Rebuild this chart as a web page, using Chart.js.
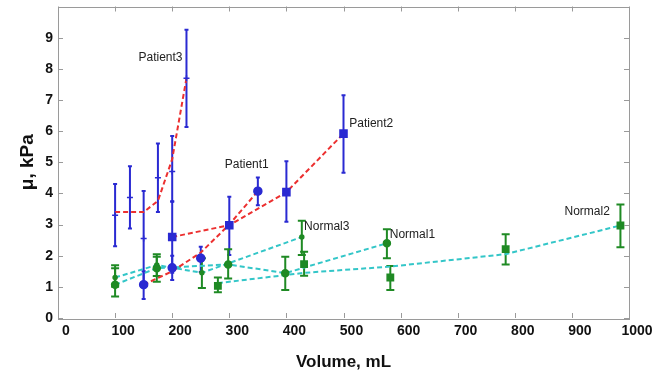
<!DOCTYPE html>
<html>
<head>
<meta charset="utf-8">
<script src="https://cdn.jsdelivr.net/npm/chart.js@4.4.1/dist/chart.umd.min.js"></script>
<style>
  html, body { margin: 0; background: #fff; }
  #wrap { width: 668px; height: 381px; }
</style>
</head>
<body>
<div id="wrap"><canvas id="grafico" width="668" height="381"></canvas></div>
<script>
// ── Eixos ──
const xTicks = [0, 100, 200, 300, 400, 500, 600, 700, 800, 900, 1000];
const yTicks = [0, 1, 2, 3, 4, 5, 6, 7, 8, 9, 10];

// ── Patient3 (linha e pontos medidos) ──
const p3LineX = [100, 150, 175, 200, 225];
const p3LineY = [3.4, 3.4, 3.76, 5.1, 7.7];
const p3X  = [100, 126, 150, 175, 200, 225];
const p3Y  = [3.3, 3.87, 2.55, 4.5, 4.7, 7.7];
const p3Lo = [2.3, 2.87, 1.0, 3.4, 3.73, 6.13];
const p3Hi = [4.3, 4.87, 4.08, 5.6, 5.84, 9.25];

// ── Patient1 ──
const p1LineX = [150, 200, 250, 300, 350];
const p1LineY = [1.07, 1.5, 2.1, 3.0, 4.07];
const p1X  = [150, 200, 250, 350];
const p1Y  = [1.07, 1.61, 1.92, 4.07];
const p1Lo = [0.61, 1.22, 1.48, 3.62];
const p1Hi = [1.5, 2.0, 2.29, 4.51];

// ── Patient2 ──
const p2X  = [200, 300, 400, 500];
const p2Y  = [2.6, 2.98, 4.04, 5.92];
const p2Lo = [1.45, 2.02, 3.09, 4.66];
const p2Hi = [3.75, 3.89, 5.03, 7.15];

// ── Normal1 ──
const n1X  = [100, 173, 298, 398, 576];
const n1Y  = [1.07, 1.6, 1.72, 1.44, 2.4];
const n1Lo = [0.69, 1.16, 1.27, 0.9, 1.92];
const n1Hi = [1.69, 1.97, 2.21, 1.97, 2.85];

// ── Normal3 ──
const n3X  = [100, 173, 252, 427];
const n3Y  = [1.3, 1.7, 1.45, 2.6];
const n3Lo = [1.0, 1.35, 0.96, 2.02];
const n3Hi = [1.6, 2.05, 1.92, 3.12];

// ── Normal2 ──
const n2LineY = [1.12, 1.45, 1.65, 2.05, 2.97];
const n2X  = [280, 431, 582, 784, 985];
const n2Y  = [1.03, 1.73, 1.3, 2.21, 2.97];
const n2Lo = [0.83, 1.36, 0.9, 1.72, 2.27];
const n2Hi = [1.3, 2.13, 1.67, 2.69, 3.64];

// ── Rótulos das séries (posição em coordenadas dos dados) ──
const rotulos = [
    { text: 'Patient3', x: 141, y: 8.36 },
    { text: 'Patient2', x: 510, y: 6.23 },
    { text: 'Patient1', x: 292, y: 4.93 },
    { text: 'Normal3',  x: 431, y: 2.93 },
    { text: 'Normal1',  x: 581, y: 2.66 },
    { text: 'Normal2',  x: 887, y: 3.41 }
];

const AZUL     = '#2a2ad2';
const VERMELHO = '#ec3030';
const CIANO    = '#33c6c8';
const VERDE    = '#1f8a24';
const EIXO     = '#9a9a9a';
const FONTE    = "'Liberation Sans', Arial, sans-serif";

function pts(xs, ys) {
    return xs.map((x, i) => ({ x: x, y: ys[i] }));
}

function marcas(label, xs, ys, lo, hi, cor, estilo, raio, cap) {
    return {
        label: label, data: pts(xs, ys), lo: lo, hi: hi, cap: cap,
        showLine: false, pointStyle: estilo, pointRadius: raio,
        backgroundColor: cor, borderColor: cor, borderWidth: 1.5, errColor: cor
    };
}

function linha(label, xs, ys, cor) {
    return {
        label: label, data: pts(xs, ys), showLine: true, pointRadius: 0,
        borderColor: cor, borderWidth: 2, borderDash: [5, 3], fill: false
    };
}

// barras de erro desenhadas pelas escalas do próprio gráfico
const barrasErro = {
    id: 'barrasErro',
    beforeDatasetsDraw(chart) {
        const { ctx, scales: { x, y } } = chart;
        ctx.save();
        chart.data.datasets.forEach(ds => {
            if (!ds.lo) return;
            ctx.strokeStyle = ds.errColor;
            ctx.lineWidth = 2;
            ds.data.forEach((p, i) => {
                const px = x.getPixelForValue(p.x);
                const y1 = y.getPixelForValue(ds.lo[i]);
                const y2 = y.getPixelForValue(ds.hi[i]);
                ctx.beginPath();
                ctx.moveTo(px, y1); ctx.lineTo(px, y2);
                ctx.moveTo(px - ds.cap, y1); ctx.lineTo(px + ds.cap, y1);
                ctx.moveTo(px - ds.cap, y2); ctx.lineTo(px + ds.cap, y2);
                ctx.stroke();
            });
        });
        ctx.restore();
    }
};

// caixa com marcas para dentro (estilo MATLAB) + rótulos
const caixa = {
    id: 'caixa',
    afterDatasetsDraw(chart) {
        const { ctx, chartArea: a, scales: { x, y } } = chart;
        ctx.save();
        ctx.strokeStyle = EIXO;
        ctx.lineWidth = 1;
        ctx.strokeRect(Math.round(a.left) + 0.5, Math.round(a.top) + 0.5,
                       Math.round(a.right - a.left), Math.round(a.bottom - a.top));
        ctx.beginPath();
        xTicks.forEach(v => {
            const px = Math.round(x.getPixelForValue(v)) + 0.5;
            ctx.moveTo(px, a.bottom); ctx.lineTo(px, a.bottom - 5);
            ctx.moveTo(px, a.top); ctx.lineTo(px, a.top + 5);
        });
        yTicks.forEach(v => {
            const py = Math.round(y.getPixelForValue(v)) + 0.5;
            ctx.moveTo(a.left, py); ctx.lineTo(a.left + 5, py);
            ctx.moveTo(a.right, py); ctx.lineTo(a.right - 5, py);
        });
        ctx.stroke();

        ctx.fillStyle = '#222';
        ctx.font = '12px ' + FONTE;
        ctx.textAlign = 'left';
        ctx.textBaseline = 'middle';
        rotulos.forEach(r => {
            ctx.fillText(r.text, x.getPixelForValue(r.x), y.getPixelForValue(r.y));
        });
        ctx.restore();
    }
};

new Chart(document.getElementById('grafico'), {
    type: 'scatter',
    data: {
        datasets: [
            marcas('Patient2 pts', p2X, p2Y, p2Lo, p2Hi, AZUL, 'rect', 5, 2),
            marcas('Patient1 pts', p1X, p1Y, p1Lo, p1Hi, AZUL, 'circle', 4, 2),
            marcas('Patient3 pts', p3X, p3Y, p3Lo, p3Hi, AZUL, 'cross', 3, 2),
            marcas('Normal2 pts', n2X, n2Y, n2Lo, n2Hi, VERDE, 'rect', 4.5, 4),
            marcas('Normal1 pts', n1X, n1Y, n1Lo, n1Hi, VERDE, 'circle', 3.5, 4),
            marcas('Normal3 pts', n3X, n3Y, n3Lo, n3Hi, VERDE, 'circle', 2, 4),
            linha('Patient3', p3LineX, p3LineY, VERMELHO),
            linha('Patient1', p1LineX, p1LineY, VERMELHO),
            linha('Patient2', p2X, p2Y, VERMELHO),
            linha('Normal1', n1X, n1Y, CIANO),
            linha('Normal3', n3X, n3Y, CIANO),
            linha('Normal2', n2X, n2LineY, CIANO)
        ]
    },
    options: {
        responsive: false,
        animation: false,
        layout: { padding: { left: 0, right: 39, top: 6, bottom: 0 } },
        plugins: { legend: { display: false }, tooltip: { enabled: false } },
        scales: {
            x: {
                type: 'linear', min: 0, max: 1000,
                afterBuildTicks: s => { s.ticks = xTicks.map(v => ({ value: v })); },
                afterFit: s => { s.height = 63; s.paddingLeft = 0; s.paddingRight = 0; },
                grid: { display: false, drawTicks: false },
                border: { display: false },
                ticks: {
                    padding: 5, labelOffset: 8, color: '#111', maxRotation: 0,
                    font: { family: FONTE, size: 14, weight: 'bold' },
                    callback: v => String(v)
                },
                title: {
                    display: true, text: 'Volume, mL', color: '#111',
                    font: { family: FONTE, size: 17, weight: 'bold' },
                    padding: { top: 0, bottom: 8 }
                }
            },
            y: {
                type: 'linear', min: 0, max: 10,
                afterBuildTicks: s => { s.ticks = yTicks.map(v => ({ value: v })); },
                afterFit: s => { s.width = 58; s.paddingTop = 0; s.paddingBottom = 0; },
                grid: { display: false, drawTicks: false },
                border: { display: false },
                ticks: {
                    padding: 5, color: '#111',
                    font: { family: FONTE, size: 14, weight: 'bold' },
                    callback: v => (v === 10 ? '' : String(v))
                },
                title: {
                    display: true, text: 'μ, kPa', color: '#111',
                    font: { family: FONTE, size: 19, weight: 'bold' },
                    padding: { top: 16, bottom: 0 }
                }
            }
        }
    },
    plugins: [barrasErro, caixa]
});
</script>
</body>
</html>
